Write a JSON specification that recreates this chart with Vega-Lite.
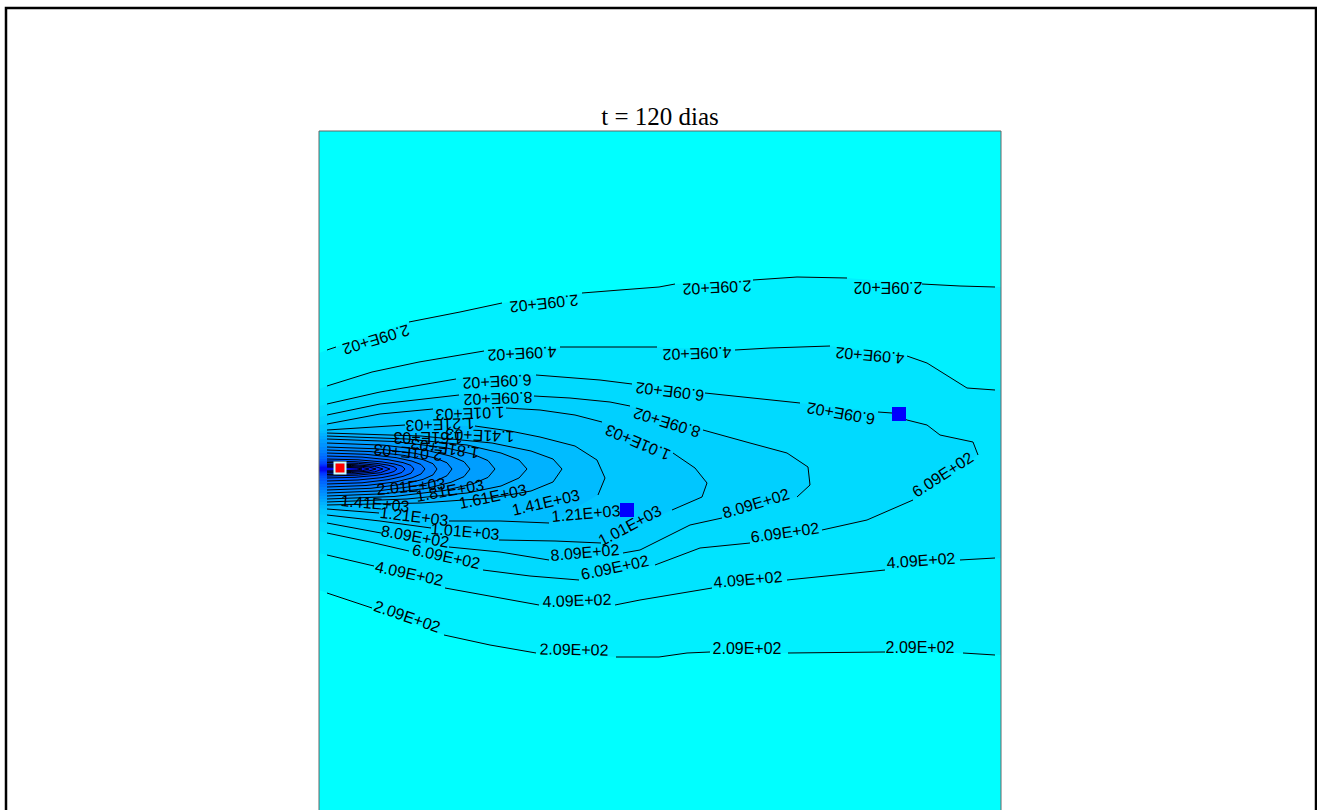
{
"$schema":"https://vega.github.io/schema/vega-lite/v6.json",
"autosize":{"type":"none"},
"padding":{"left":319,"top":131,"right":316,"bottom":0},
"width":682,"height":679,
"background":"#ffffff",
"view":{"fill":"#00FFFF","stroke":null},
"datasets":{
"frames":[{"k":"outer","x":6,"x2":1316,"y":8,"y2":900},{"k":"plot","x":319,"x2":1001,"y":131,"y2":830}],
"ttl":[{"t":"t = 120 dias","x":660,"y":125}],
"poly":[
{"p":1,"i":0,"x":319,"y":353},{"p":1,"i":1,"x":327,"y":350},{"p":1,"i":2,"x":336,"y":347},{"p":1,"i":3,"x":409,"y":322},{"p":1,"i":4,"x":460,"y":312},{"p":1,"i":5,"x":502,"y":303},{"p":1,"i":6,"x":582,"y":293},{"p":1,"i":7,"x":620,"y":290},{"p":1,"i":8,"x":659,"y":287},{"p":1,"i":9,"x":675,"y":284},{"p":1,"i":10,"x":753,"y":280},{"p":1,"i":11,"x":797,"y":277},{"p":1,"i":12,"x":847,"y":278},{"p":1,"i":13,"x":922,"y":284},{"p":1,"i":14,"x":960,"y":286},{"p":1,"i":15,"x":1001,"y":287},{"p":1,"i":16,"x":1001,"y":655},{"p":1,"i":17,"x":963,"y":653},{"p":1,"i":18,"x":885,"y":652},{"p":1,"i":19,"x":788,"y":653},{"p":1,"i":20,"x":710,"y":652},{"p":1,"i":21,"x":687,"y":653},{"p":1,"i":22,"x":659,"y":657},{"p":1,"i":23,"x":616,"y":657},{"p":1,"i":24,"x":536,"y":653},{"p":1,"i":25,"x":490,"y":645},{"p":1,"i":26,"x":444,"y":635},{"p":1,"i":27,"x":372,"y":608},{"p":1,"i":28,"x":327,"y":593},{"p":1,"i":29,"x":319,"y":590},
{"p":2,"i":0,"x":319,"y":389},{"p":2,"i":1,"x":327,"y":386},{"p":2,"i":2,"x":372,"y":372},{"p":2,"i":3,"x":419,"y":362},{"p":2,"i":4,"x":484,"y":351},{"p":2,"i":5,"x":560,"y":347},{"p":2,"i":6,"x":657,"y":347},{"p":2,"i":7,"x":735,"y":350},{"p":2,"i":8,"x":770,"y":348},{"p":2,"i":9,"x":830,"y":346},{"p":2,"i":10,"x":907,"y":356},{"p":2,"i":11,"x":927,"y":363},{"p":2,"i":12,"x":967,"y":388},{"p":2,"i":13,"x":1001,"y":390},{"p":2,"i":14,"x":1001,"y":558},{"p":2,"i":15,"x":960,"y":560},{"p":2,"i":16,"x":885,"y":570},{"p":2,"i":17,"x":787,"y":580},{"p":2,"i":18,"x":712,"y":588},{"p":2,"i":19,"x":670,"y":595},{"p":2,"i":20,"x":640,"y":600},{"p":2,"i":21,"x":615,"y":605},{"p":2,"i":22,"x":539,"y":605},{"p":2,"i":23,"x":445,"y":588},{"p":2,"i":24,"x":374,"y":566},{"p":2,"i":25,"x":327,"y":555},{"p":2,"i":26,"x":319,"y":553},
{"p":3,"i":0,"x":319,"y":406},{"p":3,"i":1,"x":327,"y":404},{"p":3,"i":2,"x":380,"y":392},{"p":3,"i":3,"x":456,"y":379},{"p":3,"i":4,"x":536,"y":375},{"p":3,"i":5,"x":600,"y":380},{"p":3,"i":6,"x":632,"y":384},{"p":3,"i":7,"x":705,"y":393},{"p":3,"i":8,"x":800,"y":403},{"p":3,"i":9,"x":878,"y":412},{"p":3,"i":10,"x":892,"y":413},{"p":3,"i":11,"x":907,"y":420},{"p":3,"i":12,"x":927,"y":425},{"p":3,"i":13,"x":940,"y":435},{"p":3,"i":14,"x":973,"y":442},{"p":3,"i":15,"x":978,"y":455},{"p":3,"i":16,"x":913,"y":500},{"p":3,"i":17,"x":867,"y":520},{"p":3,"i":18,"x":822,"y":530},{"p":3,"i":19,"x":750,"y":543},{"p":3,"i":20,"x":700,"y":548},{"p":3,"i":21,"x":655,"y":565},{"p":3,"i":22,"x":579,"y":580},{"p":3,"i":23,"x":530,"y":576},{"p":3,"i":24,"x":483,"y":570},{"p":3,"i":25,"x":409,"y":551},{"p":3,"i":26,"x":370,"y":542},{"p":3,"i":27,"x":327,"y":533},{"p":3,"i":28,"x":319,"y":531},
{"p":4,"i":0,"x":319,"y":417},{"p":4,"i":1,"x":327,"y":415},{"p":4,"i":2,"x":380,"y":404},{"p":4,"i":3,"x":459,"y":395},{"p":4,"i":4,"x":534,"y":396},{"p":4,"i":5,"x":570,"y":398},{"p":4,"i":6,"x":610,"y":402},{"p":4,"i":7,"x":630,"y":406},{"p":4,"i":8,"x":703,"y":430},{"p":4,"i":9,"x":750,"y":443},{"p":4,"i":10,"x":787,"y":453},{"p":4,"i":11,"x":808,"y":467},{"p":4,"i":12,"x":810,"y":485},{"p":4,"i":13,"x":797,"y":497},{"p":4,"i":14,"x":722,"y":518},{"p":4,"i":15,"x":690,"y":525},{"p":4,"i":16,"x":670,"y":535},{"p":4,"i":17,"x":640,"y":550},{"p":4,"i":18,"x":623,"y":553},{"p":4,"i":19,"x":549,"y":560},{"p":4,"i":20,"x":500,"y":552},{"p":4,"i":21,"x":449,"y":547},{"p":4,"i":22,"x":381,"y":533},{"p":4,"i":23,"x":327,"y":523},{"p":4,"i":24,"x":319,"y":522},
{"p":5,"i":0,"x":319,"y":425},{"p":5,"i":1,"x":327,"y":424},{"p":5,"i":2,"x":380,"y":414},{"p":5,"i":3,"x":433,"y":409},{"p":5,"i":4,"x":506,"y":408},{"p":5,"i":5,"x":540,"y":410},{"p":5,"i":6,"x":575,"y":415},{"p":5,"i":7,"x":602,"y":422},{"p":5,"i":8,"x":673,"y":453},{"p":5,"i":9,"x":695,"y":468},{"p":5,"i":10,"x":707,"y":483},{"p":5,"i":11,"x":702,"y":497},{"p":5,"i":12,"x":672,"y":510},{"p":5,"i":13,"x":601,"y":543},{"p":5,"i":14,"x":555,"y":541},{"p":5,"i":15,"x":499,"y":540},{"p":5,"i":16,"x":431,"y":528},{"p":5,"i":17,"x":380,"y":521},{"p":5,"i":18,"x":327,"y":515},{"p":5,"i":19,"x":319,"y":514},
{"p":6,"i":0,"x":319,"y":431},{"p":6,"i":1,"x":327,"y":430},{"p":6,"i":2,"x":405,"y":425},{"p":6,"i":3,"x":475,"y":426},{"p":6,"i":4,"x":510,"y":431},{"p":6,"i":5,"x":540,"y":437},{"p":6,"i":6,"x":575,"y":446},{"p":6,"i":7,"x":597,"y":460},{"p":6,"i":8,"x":605,"y":478},{"p":6,"i":9,"x":598,"y":495},{"p":6,"i":10,"x":549,"y":523},{"p":6,"i":11,"x":500,"y":521},{"p":6,"i":12,"x":449,"y":521},{"p":6,"i":13,"x":379,"y":513},{"p":6,"i":14,"x":327,"y":509},{"p":6,"i":15,"x":319,"y":508},
{"p":7,"i":0,"x":319,"y":433},{"p":7,"i":1,"x":327,"y":433},{"p":7,"i":2,"x":421,"y":436},{"p":7,"i":3,"x":492,"y":443},{"p":7,"i":4,"x":531,"y":451},{"p":7,"i":5,"x":553,"y":459},{"p":7,"i":6,"x":562,"y":469},{"p":7,"i":7,"x":553,"y":482},{"p":7,"i":8,"x":531,"y":491},{"p":7,"i":9,"x":492,"y":498},{"p":7,"i":10,"x":421,"y":503},{"p":7,"i":11,"x":327,"y":505},{"p":7,"i":12,"x":319,"y":505},
{"p":8,"i":0,"x":319,"y":436},{"p":8,"i":1,"x":327,"y":436},{"p":8,"i":2,"x":407,"y":439},{"p":8,"i":3,"x":467,"y":445},{"p":8,"i":4,"x":501,"y":453},{"p":8,"i":5,"x":519,"y":460},{"p":8,"i":6,"x":527,"y":469},{"p":8,"i":7,"x":519,"y":478},{"p":8,"i":8,"x":501,"y":486},{"p":8,"i":9,"x":467,"y":493},{"p":8,"i":10,"x":407,"y":499},{"p":8,"i":11,"x":327,"y":502},{"p":8,"i":12,"x":319,"y":502},
{"p":9,"i":0,"x":319,"y":439},{"p":9,"i":1,"x":327,"y":439},{"p":9,"i":2,"x":394,"y":441.5},{"p":9,"i":3,"x":445,"y":447.6},{"p":9,"i":4,"x":473,"y":454.2},{"p":9,"i":5,"x":488,"y":460.6},{"p":9,"i":6,"x":495,"y":469},{"p":9,"i":7,"x":488,"y":477.4},{"p":9,"i":8,"x":473,"y":483.8},{"p":9,"i":9,"x":445,"y":490.4},{"p":9,"i":10,"x":394,"y":496.5},{"p":9,"i":11,"x":327,"y":499},{"p":9,"i":12,"x":319,"y":499},
{"p":10,"i":0,"x":319,"y":443},{"p":10,"i":1,"x":327,"y":443},{"p":10,"i":2,"x":384,"y":445.2},{"p":10,"i":3,"x":427,"y":450.4},{"p":10,"i":4,"x":451,"y":456.2},{"p":10,"i":5,"x":464,"y":461.7},{"p":10,"i":6,"x":470,"y":469},{"p":10,"i":7,"x":464,"y":476.6},{"p":10,"i":8,"x":451,"y":482.3},{"p":10,"i":9,"x":427,"y":488.3},{"p":10,"i":10,"x":384,"y":493.8},{"p":10,"i":11,"x":327,"y":496},{"p":10,"i":12,"x":319,"y":496},
{"p":11,"i":0,"x":319,"y":447},{"p":11,"i":1,"x":327,"y":447},{"p":11,"i":2,"x":377,"y":448.8},{"p":11,"i":3,"x":415,"y":453.3},{"p":11,"i":4,"x":436,"y":458.2},{"p":11,"i":5,"x":447,"y":462.8},{"p":11,"i":6,"x":452,"y":469},{"p":11,"i":7,"x":447,"y":475.7},{"p":11,"i":8,"x":436,"y":480.8},{"p":11,"i":9,"x":415,"y":486.1},{"p":11,"i":10,"x":377,"y":491},{"p":11,"i":11,"x":327,"y":493},{"p":11,"i":12,"x":319,"y":493},
{"p":12,"i":0,"x":319,"y":450},{"p":12,"i":1,"x":327,"y":450},{"p":12,"i":2,"x":371,"y":451.6},{"p":12,"i":3,"x":404,"y":455.4},{"p":12,"i":4,"x":423,"y":459.6},{"p":12,"i":5,"x":433,"y":463.7},{"p":12,"i":6,"x":437,"y":469},{"p":12,"i":7,"x":433,"y":474.9},{"p":12,"i":8,"x":423,"y":479.4},{"p":12,"i":9,"x":404,"y":484},{"p":12,"i":10,"x":371,"y":488.3},{"p":12,"i":11,"x":327,"y":490},{"p":12,"i":12,"x":319,"y":490},
{"p":13,"i":0,"x":319,"y":453},{"p":13,"i":1,"x":327,"y":453},{"p":13,"i":2,"x":366,"y":454.3},{"p":13,"i":3,"x":396,"y":457.6},{"p":13,"i":4,"x":412,"y":461.1},{"p":13,"i":5,"x":421,"y":464.5},{"p":13,"i":6,"x":425,"y":469},{"p":13,"i":7,"x":421,"y":474},{"p":13,"i":8,"x":412,"y":477.9},{"p":13,"i":9,"x":396,"y":481.9},{"p":13,"i":10,"x":366,"y":485.5},{"p":13,"i":11,"x":327,"y":487},{"p":13,"i":12,"x":319,"y":487},
{"p":14,"i":0,"x":319,"y":456},{"p":14,"i":1,"x":327,"y":456},{"p":14,"i":2,"x":362,"y":457.1},{"p":14,"i":3,"x":388,"y":459.7},{"p":14,"i":4,"x":403,"y":462.6},{"p":14,"i":5,"x":411,"y":465.4},{"p":14,"i":6,"x":414,"y":469},{"p":14,"i":7,"x":411,"y":473.2},{"p":14,"i":8,"x":403,"y":476.4},{"p":14,"i":9,"x":388,"y":479.7},{"p":14,"i":10,"x":362,"y":482.8},{"p":14,"i":11,"x":327,"y":484},{"p":14,"i":12,"x":319,"y":484},
{"p":15,"i":0,"x":319,"y":459},{"p":15,"i":1,"x":327,"y":459},{"p":15,"i":2,"x":358,"y":459.8},{"p":15,"i":3,"x":382,"y":461.9},{"p":15,"i":4,"x":395,"y":464.1},{"p":15,"i":5,"x":402,"y":466.2},{"p":15,"i":6,"x":405,"y":469},{"p":15,"i":7,"x":402,"y":472.4},{"p":15,"i":8,"x":395,"y":474.9},{"p":15,"i":9,"x":382,"y":477.6},{"p":15,"i":10,"x":358,"y":480},{"p":15,"i":11,"x":327,"y":481},{"p":15,"i":12,"x":319,"y":481},
{"p":16,"i":0,"x":319,"y":461},{"p":16,"i":1,"x":327,"y":461},{"p":16,"i":2,"x":355,"y":461.7},{"p":16,"i":3,"x":376,"y":463.3},{"p":16,"i":4,"x":388,"y":465.1},{"p":16,"i":5,"x":394,"y":466.8},{"p":16,"i":6,"x":397,"y":469},{"p":16,"i":7,"x":394,"y":471.5},{"p":16,"i":8,"x":388,"y":473.4},{"p":16,"i":9,"x":376,"y":475.4},{"p":16,"i":10,"x":355,"y":477.3},{"p":16,"i":11,"x":327,"y":478},{"p":16,"i":12,"x":319,"y":478},
{"p":17,"i":0,"x":319,"y":462.5},{"p":17,"i":1,"x":327,"y":462.5},{"p":17,"i":2,"x":358.5,"y":463.4},{"p":17,"i":3,"x":380.5,"y":465.6},{"p":17,"i":4,"x":390,"y":469},{"p":17,"i":5,"x":380.5,"y":472.7},{"p":17,"i":6,"x":358.5,"y":475.1},{"p":17,"i":7,"x":327,"y":476},{"p":17,"i":8,"x":319,"y":476},
{"p":18,"i":0,"x":319,"y":464},{"p":18,"i":1,"x":327,"y":464},{"p":18,"i":2,"x":355,"y":464.7},{"p":18,"i":3,"x":374.6,"y":466.4},{"p":18,"i":4,"x":383,"y":469},{"p":18,"i":5,"x":374.6,"y":471.9},{"p":18,"i":6,"x":355,"y":473.8},{"p":18,"i":7,"x":327,"y":474.5},{"p":18,"i":8,"x":319,"y":474.5},
{"p":19,"i":0,"x":319,"y":465},{"p":19,"i":1,"x":327,"y":465},{"p":19,"i":2,"x":351.5,"y":465.5},{"p":19,"i":3,"x":368.7,"y":466.9},{"p":19,"i":4,"x":376,"y":469},{"p":19,"i":5,"x":368.7,"y":471.1},{"p":19,"i":6,"x":351.5,"y":472.5},{"p":19,"i":7,"x":327,"y":473},{"p":19,"i":8,"x":319,"y":473},
{"p":20,"i":0,"x":319,"y":466},{"p":20,"i":1,"x":327,"y":466},{"p":20,"i":2,"x":348,"y":466.4},{"p":20,"i":3,"x":362.7,"y":467.4},{"p":20,"i":4,"x":369,"y":469},{"p":20,"i":5,"x":362.7,"y":470.6},{"p":20,"i":6,"x":348,"y":471.6},{"p":20,"i":7,"x":327,"y":472},{"p":20,"i":8,"x":319,"y":472},
{"p":21,"i":0,"x":319,"y":467},{"p":21,"i":1,"x":327,"y":467},{"p":21,"i":2,"x":344.5,"y":467.3},{"p":21,"i":3,"x":356.8,"y":467.9},{"p":21,"i":4,"x":362,"y":469},{"p":21,"i":5,"x":356.8,"y":470.1},{"p":21,"i":6,"x":344.5,"y":470.7},{"p":21,"i":7,"x":327,"y":471},{"p":21,"i":8,"x":319,"y":471}
],
"seg":[
{"s":1,"i":0,"x":327,"y":350},{"s":1,"i":1,"x":336,"y":347},
{"s":2,"i":0,"x":409,"y":322},{"s":2,"i":1,"x":460,"y":312},{"s":2,"i":2,"x":502,"y":303},
{"s":3,"i":0,"x":582,"y":293},{"s":3,"i":1,"x":620,"y":290},{"s":3,"i":2,"x":659,"y":287},{"s":3,"i":3,"x":675,"y":284},
{"s":4,"i":0,"x":753,"y":280},{"s":4,"i":1,"x":797,"y":277},{"s":4,"i":2,"x":847,"y":278},
{"s":5,"i":0,"x":922,"y":284},{"s":5,"i":1,"x":960,"y":286},{"s":5,"i":2,"x":995,"y":287},
{"s":6,"i":0,"x":327,"y":593},{"s":6,"i":1,"x":372,"y":608},
{"s":7,"i":0,"x":444,"y":635},{"s":7,"i":1,"x":490,"y":645},{"s":7,"i":2,"x":536,"y":653},
{"s":8,"i":0,"x":616,"y":657},{"s":8,"i":1,"x":659,"y":657},{"s":8,"i":2,"x":687,"y":653},{"s":8,"i":3,"x":710,"y":652},
{"s":9,"i":0,"x":788,"y":653},{"s":9,"i":1,"x":885,"y":652},
{"s":10,"i":0,"x":963,"y":653},{"s":10,"i":1,"x":995,"y":655},
{"s":11,"i":0,"x":327,"y":386},{"s":11,"i":1,"x":372,"y":372},{"s":11,"i":2,"x":419,"y":362},{"s":11,"i":3,"x":484,"y":351},
{"s":12,"i":0,"x":560,"y":347},{"s":12,"i":1,"x":657,"y":347},
{"s":13,"i":0,"x":735,"y":350},{"s":13,"i":1,"x":770,"y":348},{"s":13,"i":2,"x":830,"y":346},
{"s":14,"i":0,"x":907,"y":356},{"s":14,"i":1,"x":927,"y":363},{"s":14,"i":2,"x":967,"y":388},{"s":14,"i":3,"x":995,"y":390},
{"s":15,"i":0,"x":327,"y":555},{"s":15,"i":1,"x":374,"y":566},
{"s":16,"i":0,"x":445,"y":588},{"s":16,"i":1,"x":539,"y":605},
{"s":17,"i":0,"x":615,"y":605},{"s":17,"i":1,"x":640,"y":600},{"s":17,"i":2,"x":670,"y":595},{"s":17,"i":3,"x":712,"y":588},
{"s":18,"i":0,"x":787,"y":580},{"s":18,"i":1,"x":885,"y":570},
{"s":19,"i":0,"x":960,"y":560},{"s":19,"i":1,"x":995,"y":558},
{"s":20,"i":0,"x":327,"y":404},{"s":20,"i":1,"x":380,"y":392},{"s":20,"i":2,"x":456,"y":379},
{"s":21,"i":0,"x":536,"y":375},{"s":21,"i":1,"x":600,"y":380},{"s":21,"i":2,"x":632,"y":384},
{"s":22,"i":0,"x":705,"y":393},{"s":22,"i":1,"x":800,"y":403},
{"s":23,"i":0,"x":878,"y":412},{"s":23,"i":1,"x":892,"y":413},{"s":23,"i":2,"x":907,"y":420},{"s":23,"i":3,"x":927,"y":425},{"s":23,"i":4,"x":940,"y":435},{"s":23,"i":5,"x":973,"y":442},{"s":23,"i":6,"x":978,"y":455},
{"s":24,"i":0,"x":913,"y":500},{"s":24,"i":1,"x":867,"y":520},{"s":24,"i":2,"x":822,"y":530},
{"s":25,"i":0,"x":750,"y":543},{"s":25,"i":1,"x":700,"y":548},{"s":25,"i":2,"x":655,"y":565},
{"s":26,"i":0,"x":579,"y":580},{"s":26,"i":1,"x":530,"y":576},{"s":26,"i":2,"x":483,"y":570},
{"s":27,"i":0,"x":409,"y":551},{"s":27,"i":1,"x":370,"y":542},{"s":27,"i":2,"x":327,"y":533},
{"s":28,"i":0,"x":327,"y":415},{"s":28,"i":1,"x":380,"y":404},{"s":28,"i":2,"x":459,"y":395},
{"s":29,"i":0,"x":534,"y":396},{"s":29,"i":1,"x":570,"y":398},{"s":29,"i":2,"x":610,"y":402},{"s":29,"i":3,"x":630,"y":406},
{"s":30,"i":0,"x":703,"y":430},{"s":30,"i":1,"x":750,"y":443},{"s":30,"i":2,"x":787,"y":453},{"s":30,"i":3,"x":808,"y":467},{"s":30,"i":4,"x":810,"y":485},{"s":30,"i":5,"x":797,"y":497},
{"s":31,"i":0,"x":722,"y":518},{"s":31,"i":1,"x":690,"y":525},{"s":31,"i":2,"x":670,"y":535},{"s":31,"i":3,"x":640,"y":550},{"s":31,"i":4,"x":623,"y":553},
{"s":32,"i":0,"x":549,"y":560},{"s":32,"i":1,"x":500,"y":552},{"s":32,"i":2,"x":449,"y":547},
{"s":33,"i":0,"x":381,"y":533},{"s":33,"i":1,"x":327,"y":523},
{"s":34,"i":0,"x":327,"y":424},{"s":34,"i":1,"x":380,"y":414},{"s":34,"i":2,"x":433,"y":409},
{"s":35,"i":0,"x":506,"y":408},{"s":35,"i":1,"x":540,"y":410},{"s":35,"i":2,"x":575,"y":415},{"s":35,"i":3,"x":602,"y":422},
{"s":36,"i":0,"x":673,"y":453},{"s":36,"i":1,"x":695,"y":468},{"s":36,"i":2,"x":707,"y":483},{"s":36,"i":3,"x":702,"y":497},{"s":36,"i":4,"x":672,"y":510},
{"s":37,"i":0,"x":601,"y":543},{"s":37,"i":1,"x":555,"y":541},{"s":37,"i":2,"x":499,"y":540},
{"s":38,"i":0,"x":431,"y":528},{"s":38,"i":1,"x":380,"y":521},{"s":38,"i":2,"x":327,"y":515},
{"s":39,"i":0,"x":327,"y":430},{"s":39,"i":1,"x":405,"y":425},
{"s":40,"i":0,"x":475,"y":426},{"s":40,"i":1,"x":510,"y":431},{"s":40,"i":2,"x":540,"y":437},{"s":40,"i":3,"x":575,"y":446},{"s":40,"i":4,"x":597,"y":460},{"s":40,"i":5,"x":605,"y":478},{"s":40,"i":6,"x":598,"y":495},
{"s":41,"i":0,"x":549,"y":523},{"s":41,"i":1,"x":500,"y":521},{"s":41,"i":2,"x":449,"y":521},
{"s":42,"i":0,"x":379,"y":513},{"s":42,"i":1,"x":327,"y":509}
],
"lab":[
{"t":"2.09E+02","x":376,"y":339,"a":163},{"t":"2.09E+02","x":544,"y":303,"a":174},{"t":"2.09E+02","x":717,"y":287,"a":177},{"t":"2.09E+02","x":888,"y":287,"a":180},
{"t":"4.09E+02","x":522,"y":353,"a":177},{"t":"4.09E+02","x":697,"y":353,"a":178},{"t":"4.09E+02","x":870,"y":355,"a":185},
{"t":"6.09E+02","x":497,"y":381,"a":177},{"t":"6.09E+02","x":670,"y":391,"a":187},{"t":"6.09E+02","x":841,"y":413,"a":190},
{"t":"8.09E+02","x":498,"y":398,"a":178},{"t":"8.09E+02","x":667,"y":422,"a":197},
{"t":"1.01E+03","x":470,"y":413,"a":178},{"t":"1.01E+03","x":638,"y":442,"a":203},
{"t":"1.21E+03","x":440,"y":424,"a":178},{"t":"1.41E+03","x":480,"y":435,"a":182},{"t":"1.61E+03","x":428,"y":437,"a":180},{"t":"1.81E+03","x":445,"y":448,"a":188},{"t":"2.01E+03","x":408,"y":452,"a":185},
{"t":"2.01E+03","x":411,"y":487,"a":-5},{"t":"1.81E+03","x":450,"y":491,"a":-10},{"t":"1.61E+03","x":493,"y":497,"a":-12},{"t":"1.41E+03","x":546,"y":503,"a":-13},{"t":"1.21E+03","x":586,"y":514,"a":-5},{"t":"1.01E+03","x":630,"y":526,"a":-28},
{"t":"1.41E+03","x":375,"y":504,"a":5},{"t":"1.21E+03","x":414,"y":517,"a":7},{"t":"1.01E+03","x":465,"y":532,"a":5},
{"t":"8.09E+02","x":415,"y":537,"a":10},{"t":"8.09E+02","x":585,"y":553,"a":-5},{"t":"8.09E+02","x":756,"y":504,"a":-17},
{"t":"6.09E+02","x":446,"y":557,"a":12},{"t":"6.09E+02","x":615,"y":568,"a":-12},{"t":"6.09E+02","x":785,"y":533,"a":-8},{"t":"6.09E+02","x":943,"y":475,"a":-33},
{"t":"4.09E+02","x":409,"y":574,"a":12},{"t":"4.09E+02","x":577,"y":601,"a":-2},{"t":"4.09E+02","x":748,"y":580,"a":-5},{"t":"4.09E+02","x":921,"y":561,"a":-4},
{"t":"2.09E+02","x":407,"y":617,"a":19},{"t":"2.09E+02","x":574,"y":650,"a":1},{"t":"2.09E+02","x":747,"y":649,"a":0},{"t":"2.09E+02","x":920,"y":648,"a":0}
],
"wells":[{"k":"obs","x":627,"y":510},{"k":"obs","x":899,"y":414}],
"src":[{"k":"src","x":340,"y":468}]
},
"layer":[
{"data":{"name":"poly"},
 "mark":{"type":"line","interpolate":"linear-closed","strokeWidth":0,"stroke":null},
 "encoding":{
  "x":{"field":"x","type":"quantitative","scale":{"domain":[319,1001],"nice":false,"zero":false},"axis":null},
  "y":{"field":"y","type":"quantitative","scale":{"domain":[131,810],"reverse":true,"nice":false,"zero":false},"axis":null},
  "order":{"field":"i","type":"quantitative"},
  "detail":{"field":"p","type":"ordinal"},
  "fill":{"field":"p","type":"ordinal","legend":null,"scale":{"domain":[1,2,3,4,5,6,7,8,9,10,11,12,13,14,15,16,17,18,19,20,21],"range":["#00F0FF","#00E4FF","#00DAFF","#00D0FF","#00C6FF","#00BCFF","#00B2FF","#00A8FF","#009EFF","#0094FF","#008AFF","#0080FF","#0074FF","#0068FF","#005CFF","#0050FF","#0044FF","#0036FF","#0028FF","#001AF8","#000CF0"]}}
 }},
{"data":{"name":"seg"},
 "mark":{"type":"line","color":"#000000","strokeWidth":1},
 "encoding":{
  "x":{"field":"x","type":"quantitative","scale":{"domain":[319,1001],"nice":false,"zero":false},"axis":null},
  "y":{"field":"y","type":"quantitative","scale":{"domain":[131,810],"reverse":true,"nice":false,"zero":false},"axis":null},
  "order":{"field":"i","type":"quantitative"},
  "detail":{"field":"s","type":"ordinal"}
 }},
{"data":{"name":"poly"},
 "transform":[{"filter":"datum.p >= 7 && datum.x >= 327"}],
 "mark":{"type":"line","color":"#000000","strokeWidth":1},
 "encoding":{
  "x":{"field":"x","type":"quantitative","scale":{"domain":[319,1001],"nice":false,"zero":false},"axis":null},
  "y":{"field":"y","type":"quantitative","scale":{"domain":[131,810],"reverse":true,"nice":false,"zero":false},"axis":null},
  "order":{"field":"i","type":"quantitative"},
  "detail":{"field":"p","type":"ordinal"}
 }},
{"data":{"name":"lab"},
 "mark":{"type":"text","font":"Liberation Sans","fontSize":16,"color":"#000000","align":"center","baseline":"middle"},
 "encoding":{
  "x":{"field":"x","type":"quantitative","scale":{"domain":[319,1001],"nice":false,"zero":false},"axis":null},
  "y":{"field":"y","type":"quantitative","scale":{"domain":[131,810],"reverse":true,"nice":false,"zero":false},"axis":null},
  "angle":{"field":"a","type":"quantitative","scale":null},
  "text":{"field":"t","type":"nominal"}
 }},
{"data":{"name":"ttl"},
 "mark":{"type":"text","font":"Liberation Serif","fontSize":25,"color":"#000000","align":"center","baseline":"alphabetic","clip":false},
 "encoding":{
  "x":{"field":"x","type":"quantitative","scale":{"domain":[319,1001],"nice":false,"zero":false},"axis":null},
  "y":{"field":"y","type":"quantitative","scale":{"domain":[131,810],"reverse":true,"nice":false,"zero":false},"axis":null},
  "text":{"field":"t","type":"nominal"}
 }},
{"data":{"name":"wells"},
 "mark":{"type":"point","shape":"square","filled":true,"size":196,"color":"#0000FF","opacity":1,"strokeWidth":0},
 "encoding":{
  "x":{"field":"x","type":"quantitative","scale":{"domain":[319,1001],"nice":false,"zero":false},"axis":null},
  "y":{"field":"y","type":"quantitative","scale":{"domain":[131,810],"reverse":true,"nice":false,"zero":false},"axis":null}
 }},
{"data":{"name":"src"},
 "mark":{"type":"point","shape":"square","filled":true,"size":121,"fill":"#FF0000","stroke":"#C8FFFF","strokeWidth":2,"opacity":1},
 "encoding":{
  "x":{"field":"x","type":"quantitative","scale":{"domain":[319,1001],"nice":false,"zero":false},"axis":null},
  "y":{"field":"y","type":"quantitative","scale":{"domain":[131,810],"reverse":true,"nice":false,"zero":false},"axis":null}
 }},
{"data":{"name":"frames"},
 "mark":{"type":"rect","fill":null,"fillOpacity":0,"clip":false},
 "encoding":{
  "x":{"field":"x","type":"quantitative","scale":{"domain":[319,1001],"nice":false,"zero":false},"axis":null},
  "x2":{"field":"x2"},
  "y":{"field":"y","type":"quantitative","scale":{"domain":[131,810],"reverse":true,"nice":false,"zero":false},"axis":null},
  "y2":{"field":"y2"},
  "stroke":{"field":"k","type":"nominal","legend":null,"scale":{"domain":["outer","plot"],"range":["#000000","#666666"]}},
  "strokeWidth":{"field":"k","type":"nominal","legend":null,"scale":{"domain":["outer","plot"],"range":[2.5,1]}}
 }}
]
}
